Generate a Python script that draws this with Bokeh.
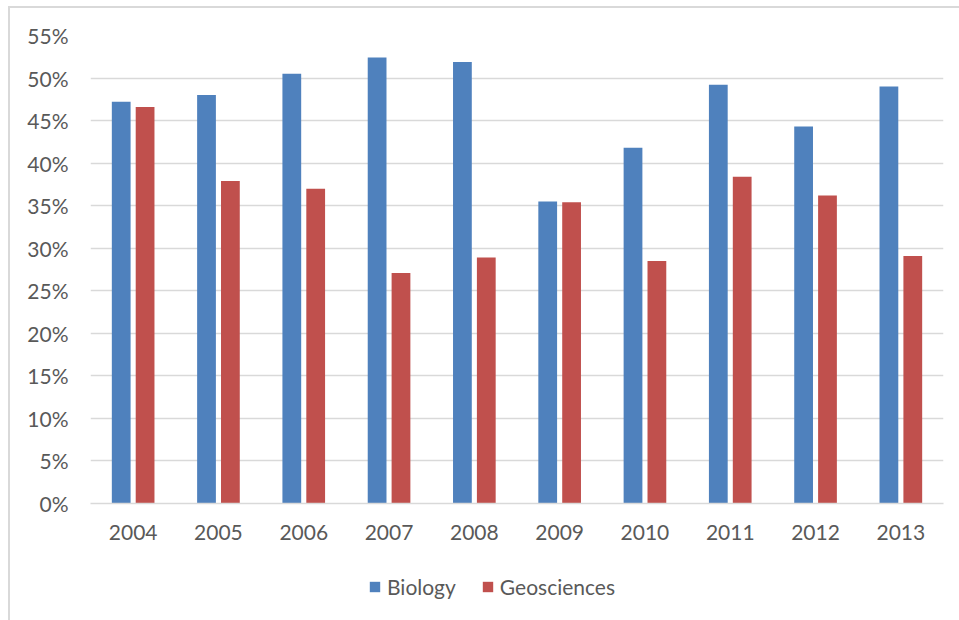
from bokeh.plotting import figure
from bokeh.layouts import column
from bokeh.models import (FactorRange, Range1d, FixedTicker, NumeralTickFormatter,
                          Legend, LegendItem, ColumnDataSource)
from bokeh.transform import dodge
from bokeh.embed import file_html
from bokeh.resources import INLINE

years = ["2004", "2005", "2006", "2007", "2008", "2009", "2010", "2011", "2012", "2013"]
biology = [0.472, 0.480, 0.505, 0.524, 0.519, 0.355, 0.418, 0.492, 0.443, 0.490]
geosciences = [0.466, 0.379, 0.370, 0.271, 0.289, 0.354, 0.285, 0.384, 0.362, 0.291]
y_ticks = [0.0, 0.05, 0.10, 0.15, 0.20, 0.25, 0.30, 0.35, 0.40, 0.45, 0.50, 0.55]
series_names = ["Biology", "Geosciences"]

BLUE = "#4F81BD"
RED = "#C0504D"
TEXT = "#595959"
GRID = "#D9D9D9"
FONT = "Lato"

src = ColumnDataSource(dict(year=years, bio=biology, geo=geosciences))

# ---- main bar chart ----
p = figure(
    x_range=FactorRange(*years, range_padding=0),
    y_range=Range1d(0, 0.55),
    width=949, height=555,
    output_backend="svg", toolbar_location=None,
    min_border_left=80, min_border_right=16,
    min_border_top=27, min_border_bottom=60,
)
p.outline_line_color = None
p.background_fill_color = "white"
p.border_fill_color = "white"

p.vbar(x=dodge("year", -0.14, range=p.x_range), top="bio", width=0.22,
       source=src, fill_color=BLUE, line_color=None)
p.vbar(x=dodge("year", 0.14, range=p.x_range), top="geo", width=0.22,
       source=src, fill_color=RED, line_color=None)

p.xgrid.grid_line_color = None
p.ygrid.grid_line_color = GRID
p.ygrid.grid_line_width = 1.3

p.yaxis.ticker = FixedTicker(ticks=y_ticks)
p.yaxis.formatter = NumeralTickFormatter(format="0%")
p.yaxis.axis_line_color = None
p.yaxis.major_tick_line_color = None
p.yaxis.minor_tick_line_color = None
p.yaxis.major_tick_out = 0
p.yaxis.major_tick_in = 0
p.yaxis.major_label_standoff = 22
p.yaxis.major_label_text_font = FONT
p.yaxis.major_label_text_font_size = "21px"
p.yaxis.major_label_text_color = TEXT

p.xaxis.axis_line_color = GRID
p.xaxis.axis_line_width = 1.5
p.xaxis.major_tick_line_color = None
p.xaxis.major_tick_out = 0
p.xaxis.major_tick_in = 0
p.xaxis.major_label_standoff = 21
p.xaxis.major_label_text_font = FONT
p.xaxis.major_label_text_font_size = "21px"
p.xaxis.major_label_text_color = TEXT

# ---- legend strip underneath ----
leg = figure(
    x_range=Range1d(0, 1), y_range=Range1d(0, 1),
    width=949, height=57,
    x_axis_location=None, y_axis_location=None,
    output_backend="svg", toolbar_location=None,
    min_border=0,
)
leg.grid.visible = False
leg.outline_line_color = None
leg.background_fill_color = "white"
leg.border_fill_color = "white"

# zero-height swatch renderers that only feed the legend
swatch_bio = leg.vbar(x=[0.5], top=[0], bottom=[0], width=0.01,
                      fill_color=BLUE, line_color=None)
swatch_geo = leg.vbar(x=[0.5], top=[0], bottom=[0], width=0.01,
                      fill_color=RED, line_color=None)

legend = Legend(
    items=[LegendItem(label=series_names[0], renderers=[swatch_bio]),
           LegendItem(label=series_names[1], renderers=[swatch_geo])],
    orientation="horizontal",
    location=(278, 21),
    padding=0, margin=0, spacing=25,
    glyph_width=13, glyph_height=13, label_standoff=6,
    label_text_font=FONT, label_text_font_size="21px", label_text_color=TEXT,
    border_line_color=None, background_fill_alpha=0,
)
leg.add_layout(legend)

layout = column(p, leg, spacing=0)
# thin grey frame along the top and left of the whole chart
layout.styles = {
    "margin-left": "8px", "margin-top": "6px",
    "border-left": "2px solid #D9D9D9", "border-top": "2px solid #D9D9D9",
    "background-color": "white",
}

open("out.html", "w").write(file_html(layout, INLINE))
